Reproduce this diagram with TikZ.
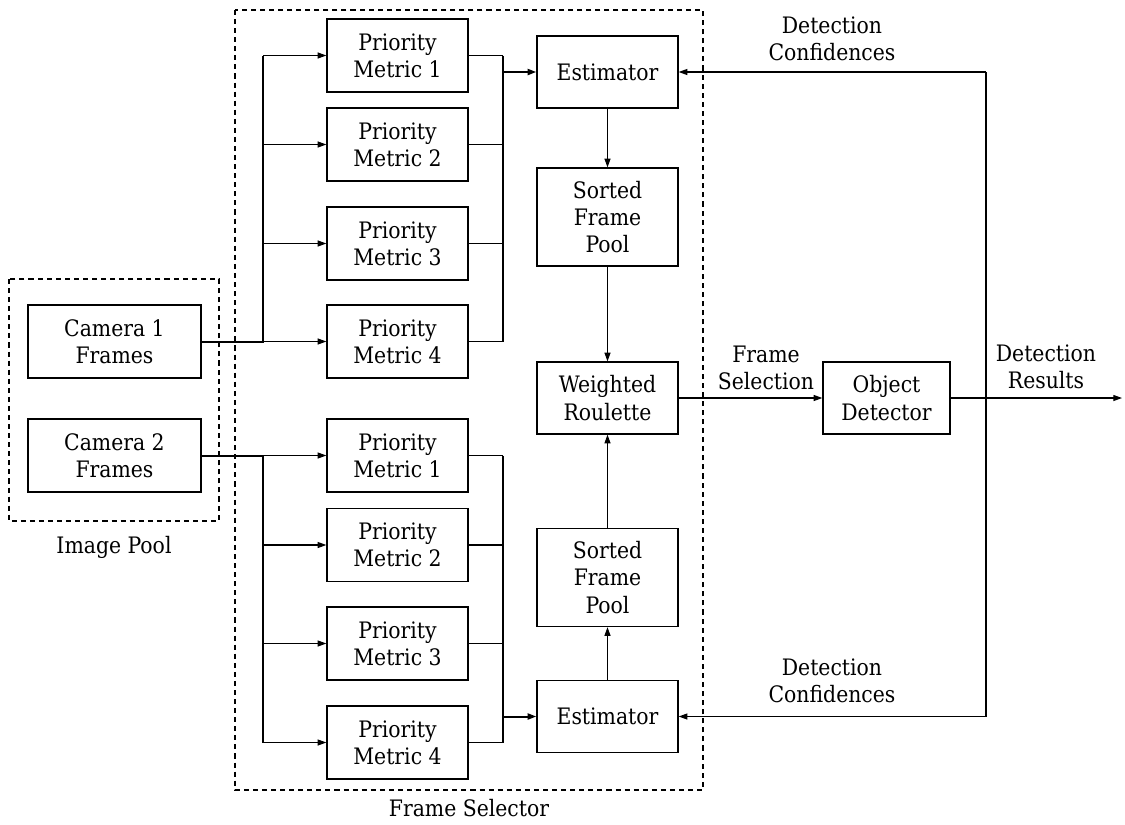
\documentclass[tikz,border=0pt]{standalone}
\usepackage{fontspec}
\setmainfont{DejaVu Serif Condensed}
\usetikzlibrary{arrows.meta}
\begin{document}
\begin{tikzpicture}[x=0.75pt,y=-0.75pt,
  txt/.style={font=\fontsize{17}{20.5}\selectfont, align=center, inner sep=0pt},
  block/.style={txt, draw, line width=1pt, minimum width=141*0.75pt, minimum height=73*0.75pt},
  group/.style={draw, line width=0.9pt, dash pattern=on 3.8pt off 3pt},
  conn/.style={line width=0.8pt},
  bus/.style={line width=1.5pt},
  arr/.style={conn, -{Triangle[length=6.5pt,width=4.5pt]}}
]
\useasboundingbox (0,0) rectangle (1125,825);

% dashed groups
\draw[group] (9,279) rectangle (219,521);
\node[txt] (imgpool) at (114,547) {Image Pool};
\draw[group] (235,10) rectangle (703,790);
\node[txt] (selector) at (469,808) {Frame Selector};

% cameras
\node[block, minimum width=173*0.75pt] (cam1) at (114.5,341.5) {Camera 1\\Frames};
\node[block, minimum width=173*0.75pt] (cam2) at (114.5,455.5) {Camera 2\\Frames};

% priority metrics, upper branch
\node[block] (pa1) at (397.5,55.5) {Priority\\Metric 1};
\node[block] (pa2) at (397.5,144.5) {Priority\\Metric 2};
\node[block] (pa3) at (397.5,243.5) {Priority\\Metric 3};
\node[block] (pa4) at (397.5,341.5) {Priority\\Metric 4};
% priority metrics, lower branch
\node[block] (pb1) at (397.5,455.5) {Priority\\Metric 1};
\node[block] (pb2) at (397.5,545) {Priority\\Metric 2};
\node[block] (pb3) at (397.5,643.5) {Priority\\Metric 3};
\node[block] (pb4) at (397.5,742.5) {Priority\\Metric 4};

% estimators, pools, roulette
\node[block, minimum height=72*0.75pt] (esta) at (607.5,72) {Estimator};
\node[block, minimum height=98*0.75pt] (poola) at (607.5,217) {Sorted\\Frame\\Pool};
\node[block, minimum height=72*0.75pt] (roul) at (607.5,398) {Weighted\\Roulette};
\node[block, minimum height=98*0.75pt] (poolb) at (607.5,577.5) {Sorted\\Frame\\Pool};
\node[block, minimum height=72*0.75pt] (estb) at (607.5,716.5) {Estimator};

% detector
\node[block, minimum width=127*0.75pt, minimum height=72*0.75pt] (det) at (886.5,398) {Object\\Detector};

% bus coordinates
\coordinate (splitx) at (263,0);
\coordinate (mergex) at (503,0);
\coordinate (fbtop) at (986,72);
\coordinate (fbmid) at (986,398);
\coordinate (fbbot) at (986,716.5);
\coordinate (out) at (1122,398);

% upper fan-out
\draw[bus] (cam1.east) -- (splitx |- cam1.east) -- (splitx |- pa1.west);
\foreach \p in {pa1,pa2,pa3,pa4}
  \draw[arr] (splitx |- \p.west) -- (\p.west);
% lower fan-out
\draw[bus] (cam2.east) -- (splitx |- cam2.east) -- (splitx |- pb4.west);
\foreach \p in {pb1,pb2,pb3,pb4}
  \draw[arr] (splitx |- \p.west) -- (\p.west);

% upper merge
\foreach \p in {pa1,pa2,pa3,pa4}
  \draw[conn] (\p.east) -- (mergex |- \p.east);
\draw[bus] (mergex |- pa1.east) -- (mergex |- pa4.east);
\draw[bus, -{Triangle[length=6.5pt,width=4.5pt]}] (mergex |- esta.west) -- (esta.west);
% lower merge
\foreach \p in {pb1,pb2,pb3,pb4}
  \draw[conn] (\p.east) -- (mergex |- \p.east);
\draw[bus] (mergex |- pb1.east) -- (mergex |- pb4.east);
\draw[bus, -{Triangle[length=6.5pt,width=4.5pt]}] (mergex |- estb.west) -- (estb.west);

% vertical chain
\draw[arr] (esta.south) -- (poola.north);
\draw[arr] (poola.south) -- (roul.north);
\draw[arr] (estb.north) -- (poolb.south);
\draw[arr] (poolb.north) -- (roul.south);

% selection and detection
\draw[arr] (roul.east) -- (det.west);
\node[txt] (lblsel) at (766,368) {Frame\\Selection};
\draw[bus] (det.east) -- (fbmid);
\draw[arr] (fbmid) -- (out);
\node[txt] (lblres) at (1046,367) {Detection\\Results};

% feedback of confidences
\draw[conn] (fbtop) -- (fbbot);
\draw[arr] (fbtop) -- (esta.east);
\draw[arr] (fbbot) -- (estb.east);
\node[txt] (lblconfa) at (832,39) {Detection\\Confidences};
\node[txt] (lblconfb) at (832,681) {Detection\\Confidences};
\end{tikzpicture}
\end{document}
